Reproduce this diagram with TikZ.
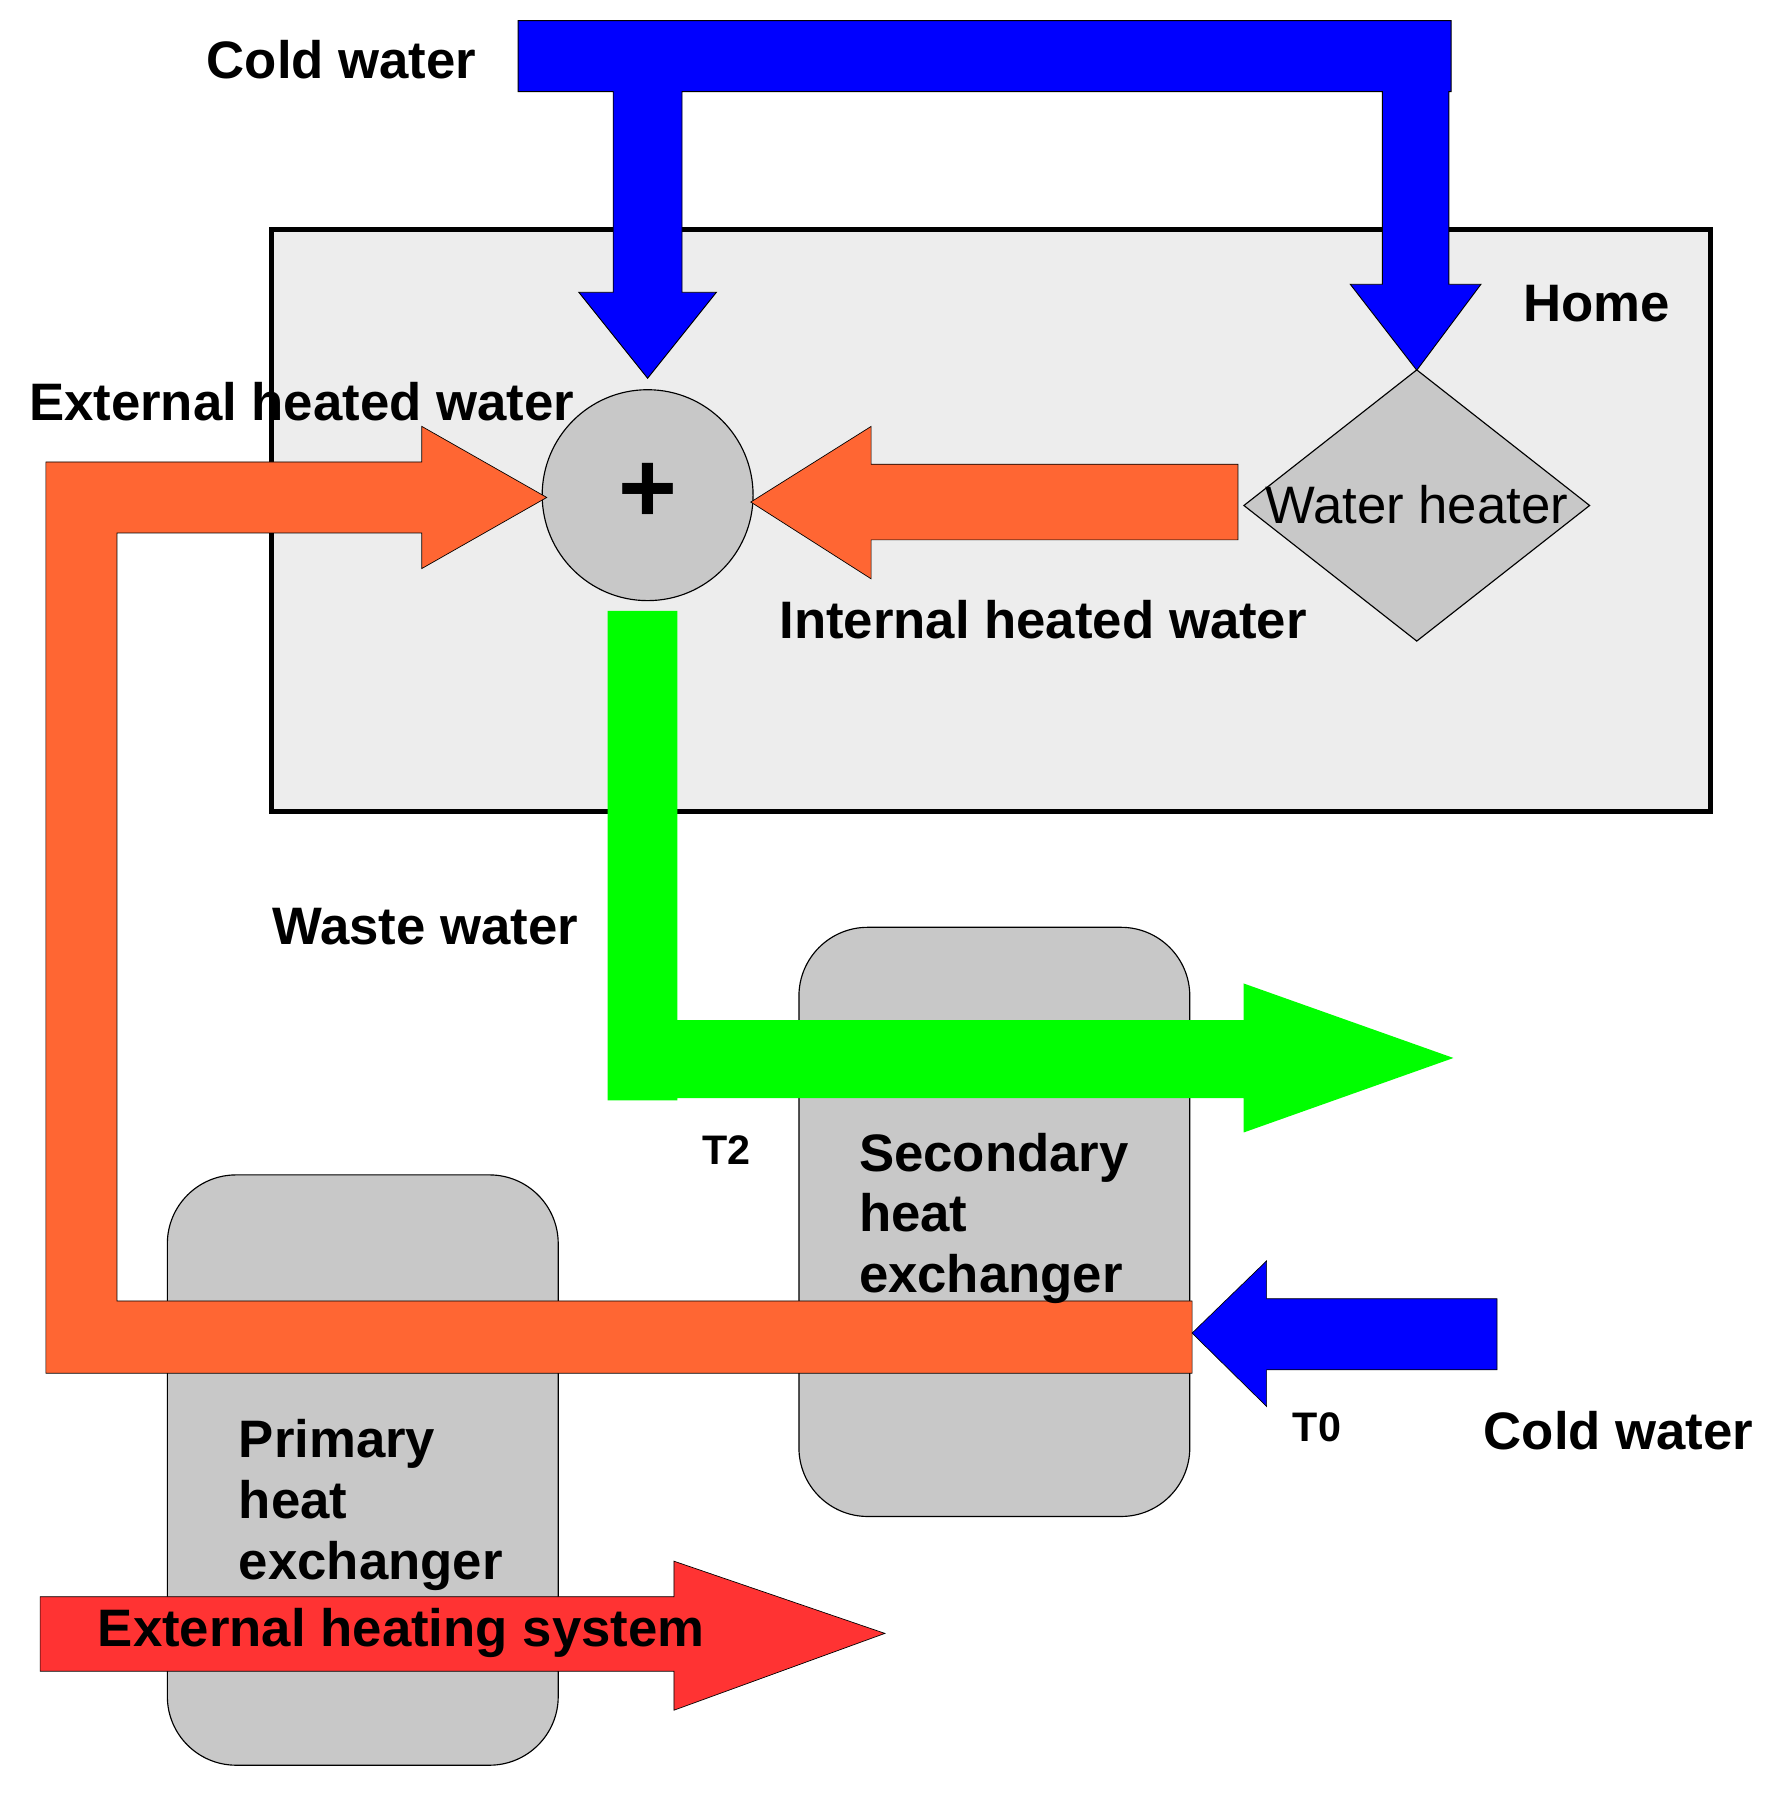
\documentclass[tikz,border=0pt]{standalone}
\usepackage{fontspec}
\setmainfont{Liberation Sans}
\usetikzlibrary{shapes.geometric}
\definecolor{homebg}{HTML}{EDEDED}
\definecolor{grayf}{HTML}{C8C8C8}
\definecolor{orng}{HTML}{FF6633}
\definecolor{grn}{HTML}{00FF00}
\definecolor{blu}{HTML}{0000FF}
\definecolor{rd}{HTML}{FF3333}
\begin{document}
\begin{tikzpicture}[x=0.5pt,y=-0.5pt,
  lbl/.style={font=\fontsize{23}{26.5}\selectfont\bfseries,inner sep=0pt},
  small/.style={font=\fontsize{18}{20}\selectfont\bfseries,inner sep=0pt},
  hx/.style={fill=grayf,draw=black,line width=0.5pt,rounded corners=30pt}]
\useasboundingbox (0,0) rectangle (1552,1566);
% home
\node[draw=black,line width=2.2pt,fill=homebg,minimum width=1255*0.5pt,minimum height=508*0.5pt,anchor=north west,inner sep=0pt] (home) at (235,198) {};
\node[lbl] (homel) at (1393,265) {Home};
% heat exchangers
\draw[hx] (697,809) rectangle (1038,1323);
\draw[hx] (146,1025) rectangle (487,1540);
% blue top
\fill[blu,draw=black,line width=0.4pt] (452,18) -- (1266,18) -- (1266,80) -- (1264,80) -- (1264,248) -- (1292,248) -- (1236,323) -- (1178,248) -- (1206,248) -- (1206,80) -- (595,80) -- (595,255) -- (625,255) -- (565,330) -- (505,255) -- (535,255) -- (535,80) -- (452,80) -- cycle;
% mixer
\node[circle,fill=grayf,draw=black,line width=0.5pt,minimum size=184*0.5pt,inner sep=0pt] (mix) at (565,432) {};
\node[font=\fontsize{44}{44}\selectfont\bfseries] at (565,430) {+};
% water heater
\node[diamond,fill=grayf,draw=black,line width=0.5pt,minimum width=302*0.5pt,minimum height=237*0.5pt,inner sep=0pt] (wh) at (1236,441) {};
\node[font=\fontsize{23}{26}\selectfont,inner sep=0pt] at (1236,440) {Water heater};
% internal heated water
\fill[orng,draw=black,line width=0.3pt] (1080,405) -- (760,405) -- (760,372) -- (655,438) -- (760,505) -- (760,471) -- (1080,471) -- cycle;
% orange loop
\fill[orng,draw=black,line width=0.3pt] (1040,1135) -- (102,1135) -- (102,465) -- (368,465) -- (368,496) -- (477,434) -- (368,372) -- (368,403) -- (40,403) -- (40,1198) -- (1040,1198) -- cycle;
% green
\fill[grn] (530,533) -- (591,533) -- (591,890) -- (1085,890) -- (1085,858) -- (1268,923) -- (1085,988) -- (1085,958) -- (591,958) -- (591,960) -- (530,960) -- cycle;
% blue bottom
\fill[blu,draw=black,line width=0.3pt] (1306,1133) -- (1105,1133) -- (1105,1100) -- (1040,1163) -- (1105,1227) -- (1105,1195) -- (1306,1195) -- cycle;
% red
\fill[rd,draw=black,line width=0.3pt] (35,1393) -- (588,1393) -- (588,1362) -- (772,1425) -- (588,1492) -- (588,1458) -- (35,1458) -- cycle;
% labels
\node[lbl] at (298,52) {Cold water};
\node[lbl,anchor=west] at (25,350) {External heated water};
\node[lbl] at (910,541) {Internal heated water};
\node[lbl] at (371,808) {Waste water};
\node[small] at (634,1003) {T2};
\node[small] at (1149,1245) {T0};
\node[lbl] at (1412,1248) {Cold water};
\node[lbl,anchor=north west,align=left] at (749,988) {Secondary\\heat\\exchanger};
\node[lbl,anchor=north west,align=left] at (208,1238) {Primary\\heat\\exchanger};
\node[lbl] at (350,1425) {External heating system};
\end{tikzpicture}
\end{document}
